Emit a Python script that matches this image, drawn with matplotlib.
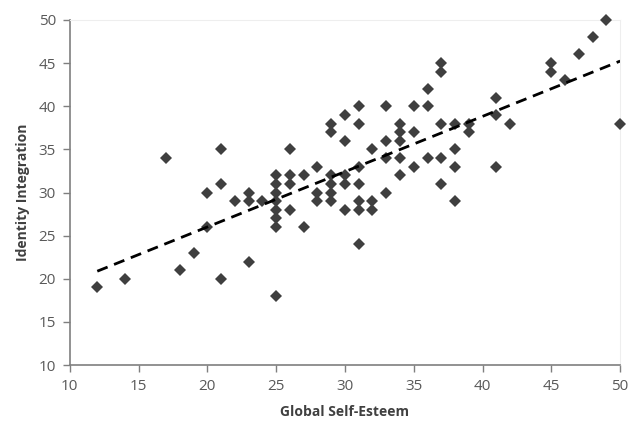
import matplotlib.pyplot as plt
import numpy as np

# Global Self-Esteem (x) vs Identity Integration (y)
self_esteem = [12, 14, 17, 18, 19, 20, 20, 21, 21, 21, 22, 23, 23, 23, 24,
               25, 25, 25, 25, 25, 25, 25, 25,
               26, 26, 26, 26, 27, 27, 28, 28, 28,
               29, 29, 29, 29, 29, 29, 30, 30, 30, 30, 30,
               31, 31, 31, 31, 31, 31, 31, 32, 32, 32,
               33, 33, 33, 33, 34, 34, 34, 34, 34, 35, 35, 35,
               36, 36, 36, 37, 37, 37, 37, 37, 38, 38, 38, 38, 39, 39,
               41, 41, 41, 42, 45, 45, 46, 47, 48, 49, 50]
identity = [19, 20, 34, 21, 23, 30, 26, 35, 31, 20, 29, 30, 29, 22, 29,
            32, 31, 30, 29, 28, 27, 26, 18,
            35, 32, 31, 28, 32, 26, 33, 30, 29,
            38, 37, 32, 31, 30, 29, 39, 36, 32, 31, 28,
            40, 38, 33, 31, 29, 28, 24, 35, 29, 28,
            40, 36, 34, 30, 38, 37, 36, 34, 32, 40, 37, 33,
            42, 40, 34, 45, 44, 38, 34, 31, 38, 35, 33, 29, 38, 37,
            41, 39, 33, 38, 45, 44, 43, 46, 48, 50, 38]

x = np.array(self_esteem)
y = np.array(identity)

fig = plt.figure(figsize=(6.4, 4.25), dpi=100)
ax = fig.add_axes([0.109, 0.141, 0.86, 0.812])

ax.plot(x, y, linestyle='none', marker='D', markersize=6.5,
        color='#3f3f3f', markeredgewidth=0, clip_on=False, zorder=3)

# linear trend line
k, q = np.polyfit(x, y, 1)
xs = np.array([x.min(), x.max()])
ax.plot(xs, k * xs + q, color='black', linestyle=(0, (4, 2.5)), linewidth=2,
        zorder=4)

ax.set_xlim(10, 50)
ax.set_ylim(10, 50)
ax.set_xticks(range(10, 51, 5))
ax.set_yticks(range(10, 51, 5))

for s in ['top', 'right']:
    ax.spines[s].set_color('#eeeeee')
    ax.spines[s].set_linewidth(0.8)
for s in ['left', 'bottom']:
    ax.spines[s].set_color('#7f7f7f')
    ax.spines[s].set_linewidth(1.2)

ax.tick_params(direction='out', length=5, width=1, color='#7f7f7f',
               labelsize=11, labelcolor='#595959', pad=5)
for lbl in ax.get_xticklabels() + ax.get_yticklabels():
    lbl.set_family('Open Sans')

ax.set_xlabel('Global Self-Esteem', fontsize=10, fontweight='bold',
              family='Open Sans', color='#404040', labelpad=8)
ax.set_ylabel('Identity Integration', fontsize=10, fontweight='bold',
              family='Open Sans', color='#404040', labelpad=6)

fig.savefig('out.png', dpi=100)
